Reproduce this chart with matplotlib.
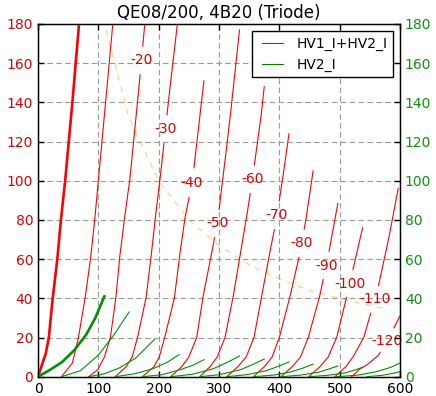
import numpy as np
import matplotlib
matplotlib.use("Agg")
import matplotlib.pyplot as plt
from matplotlib.lines import Line2D
from matplotlib.legend_handler import HandlerLine2D

# ---------------- data ----------------
grid_voltages = [0, -10, -20, -30, -40, -50, -60, -70, -80, -90, -100, -110, -120]

# total current HV1_I+HV2_I (mA) vs anode voltage (V), one list pair per grid voltage
tot_v_0 = [0, 13, 18, 24, 32, 38, 45, 57, 68, 72]
tot_i_0 = [0, 12, 20, 39, 60, 80, 100, 140, 180, 195]
tot_v_10 = [39, 57, 67, 78, 87, 94, 100, 112, 124, 130]
tot_i_10 = [0, 7, 20, 40, 60, 80, 100, 140, 180, 198]
tot_v_20 = [84, 99, 110, 120, 129, 135, 143, 152, 165, 171, 177, 180]
tot_i_20 = [0, 3.5, 10, 20, 40, 60, 80, 100, 140, 160, 180, 190]
tot_v_30 = [128, 146, 156, 165, 179, 187, 194, 202, 209, 216, 231, 234]
tot_i_30 = [0, 5, 10, 20, 40, 60, 80, 100, 120, 140, 180, 188]
tot_v_40 = [173, 192, 201, 210, 226, 234, 243, 256, 275]
tot_i_40 = [0, 5, 10, 20, 40, 60, 80, 100, 151]
tot_v_50 = [220, 238, 250, 263, 273, 286, 298, 306, 318, 334]
tot_i_50 = [0, 5, 10, 20, 40, 60, 80, 100, 131, 177]
tot_v_60 = [268, 285, 297, 310, 323, 334, 345, 355, 364, 369, 375]
tot_i_60 = [0, 5, 10, 20, 40, 60, 80, 100, 120, 131, 148]
tot_v_70 = [313, 331, 345, 358, 370, 382, 395, 405, 416]
tot_i_70 = [0, 5, 10, 20, 40, 60, 80, 100, 124]
tot_v_80 = [357, 375, 388, 400, 417, 432, 444, 456]
tot_i_80 = [0, 5, 10, 20, 40, 60, 80, 105]
tot_v_90 = [403, 421, 435, 448, 466, 480, 492, 497]
tot_i_90 = [0, 5, 10, 20, 40, 60, 80, 88.5]
tot_v_100 = [449, 467, 481, 495, 511, 526, 538]
tot_i_100 = [0, 5, 10, 20, 40, 60, 76]
tot_v_110 = [492, 510, 522, 540, 552, 564, 581, 597]
tot_i_110 = [0, 5, 10, 20, 33, 46, 70, 96]
tot_v_120 = [520, 531, 545, 564, 580, 600]
tot_i_120 = [0, 3.4, 6, 10.8, 19, 31]

# screen current HV2_I (mA)
g2_v_0 = [0, 20, 40, 60, 80, 95, 110]
g2_i_0 = [0, 3.5, 7.5, 13.5, 21.5, 30, 41]
g2_v_10 = [39, 70, 100, 125, 151]
g2_i_10 = [0, 3, 11, 21, 33]
g2_v_20 = [84, 110, 135, 162, 193]
g2_i_20 = [0, 1.5, 4.5, 9.5, 19]
g2_v_30 = [128, 160, 190, 215, 234]
g2_i_30 = [0, 1.5, 4, 7.5, 11.3]
g2_v_40 = [173, 205, 235, 258, 275]
g2_i_40 = [0, 1, 3.5, 6, 8.7]
g2_v_50 = [220, 255, 290, 315, 334]
g2_i_50 = [0, 1.2, 4, 7.5, 10.6]
g2_v_60 = [268, 300, 335, 358, 375]
g2_i_60 = [0, 1, 3.5, 6.5, 9]
g2_v_70 = [313, 345, 378, 400, 416]
g2_i_70 = [0, 1, 3, 5.5, 7.5]
g2_v_80 = [357, 390, 420, 440, 456]
g2_i_80 = [0, 0.8, 2.5, 4.5, 6.4]
g2_v_90 = [403, 435, 465, 483, 497]
g2_i_90 = [0, 0.8, 2.3, 4, 5.5]
g2_v_100 = [449, 480, 510, 525, 538]
g2_i_100 = [0, 0.7, 2, 3.4, 4.8]
g2_v_110 = [495, 530, 560, 585, 600]
g2_i_110 = [0, 0.8, 2.5, 4.8, 7]
g2_v_120 = [545, 570, 590, 600]
g2_i_120 = [0, 0.7, 1.8, 2.6]

# curve-label positions (current where the label sits on each curve)
label_grids = [-20, -30, -40, -50, -60, -70, -80, -90, -100, -110, -120]
label_currents = [161.6, 126.3, 98.7, 78.2, 100.7, 82.3, 68, 56.7, 47.5, 39.4, 18.4]

# max dissipation line
pd_v = [113, 150, 200, 250, 300, 350, 400, 450, 500, 570]
pd_i = [177, 133, 100, 80, 67, 57, 50, 44, 40, 35]

title = "QE08/200, 4B20 (Triode)"
legend_labels = ['HV1_I+HV2_I', 'HV2_I']
x_ticks = [0, 100, 200, 300, 400, 500, 600]
y_ticks = [0, 20, 40, 60, 80, 100, 120, 140, 160, 180]

tot_curves = [(tot_v_0, tot_i_0), (tot_v_10, tot_i_10), (tot_v_20, tot_i_20), (tot_v_30, tot_i_30),
              (tot_v_40, tot_i_40), (tot_v_50, tot_i_50), (tot_v_60, tot_i_60), (tot_v_70, tot_i_70),
              (tot_v_80, tot_i_80), (tot_v_90, tot_i_90), (tot_v_100, tot_i_100),
              (tot_v_110, tot_i_110), (tot_v_120, tot_i_120)]
g2_curves = [(g2_v_0, g2_i_0), (g2_v_10, g2_i_10), (g2_v_20, g2_i_20), (g2_v_30, g2_i_30),
             (g2_v_40, g2_i_40), (g2_v_50, g2_i_50), (g2_v_60, g2_i_60), (g2_v_70, g2_i_70),
             (g2_v_80, g2_i_80), (g2_v_90, g2_i_90), (g2_v_100, g2_i_100),
             (g2_v_110, g2_i_110), (g2_v_120, g2_i_120)]

# ---------------- plotting ----------------
plt.rcParams['font.family'] = ['DejaVu Sans']
plt.rcParams['font.size'] = 10

fig = plt.figure(figsize=(4.36, 3.96), dpi=100, facecolor='white')
ax = fig.add_axes([38 / 436, 19.3 / 396, 362 / 436, 352.7 / 396])
ax.set_xlim(0, 600)
ax.set_ylim(0, 180)
ax.set_xticks(x_ticks)
ax.set_yticks(y_ticks)
ax.grid(True, color='#999999', linestyle=(0, (5, 3)), linewidth=0.8)
ax.set_axisbelow(True)
ax.tick_params(direction='in', length=4, width=1, top=True, right=False, labelsize=10)
ax.tick_params(axis='y', colors='black', labelcolor='#dd0000')
for s in ax.spines.values():
    s.set_linewidth(1.0)

ax.plot(pd_v, pd_i, color='orange', alpha=0.6, linestyle=(0, (6, 6)), linewidth=0.7, zorder=2)

fig.canvas.draw()
to_px = ax.transData

labels = dict(zip(label_grids, label_currents))
R_PX = 14.0
for g, (v, i) in zip(grid_voltages, tot_curves):
    lw = 1.9 if g == 0 else 0.8
    v = np.asarray(v, float)
    i = np.asarray(i, float)
    if g in labels:
        il = labels[g]
        vl = np.interp(il, i, v)
        # densify the polyline so a gap can be cut under the label
        t = np.linspace(0, len(v) - 1, 40 * len(v))
        vd = np.interp(t, np.arange(len(v)), v)
        idd = np.interp(t, np.arange(len(i)), i)
        pts = to_px.transform(np.column_stack([vd, idd]))
        c = to_px.transform([[vl, il]])[0]
        d = np.hypot(pts[:, 0] - c[0], pts[:, 1] - c[1])
        vd = np.where(d < R_PX, np.nan, vd)
        ax.plot(vd, idd, color='red', linewidth=lw, zorder=3)
        ax.text(vl, il, str(g), color='#dd0000', fontsize=10, ha='center', va='center', zorder=5)
    else:
        ax.plot(v, i, color='red', linewidth=lw, zorder=3)

for g, (v, i) in zip(grid_voltages, g2_curves):
    lw = 1.9 if g == 0 else 0.8
    ax.plot(v, i, color='#009000', linewidth=lw, zorder=3)

ax2 = ax.twinx()
ax2.set_ylim(0, 180)
ax2.set_yticks(y_ticks)
ax2.tick_params(direction='in', length=4, width=1, labelsize=10, labelcolor='#109010')

ax.set_title(title, fontsize=12, pad=4)

handles = [Line2D([], [], color='red', linewidth=0.8), Line2D([], [], color='green', linewidth=0.8)]
leg = ax2.legend(handles, legend_labels, loc='upper right', fancybox=False,
                 framealpha=1, edgecolor='black', fontsize=10, handlelength=1.83,
                 handletextpad=1.0, borderpad=0.4, borderaxespad=0.5,
                 handler_map={Line2D: HandlerLine2D(xpad=0.32)})
leg.get_frame().set_linewidth(1.0)

fig.savefig('out.png', dpi=100, facecolor='white')
